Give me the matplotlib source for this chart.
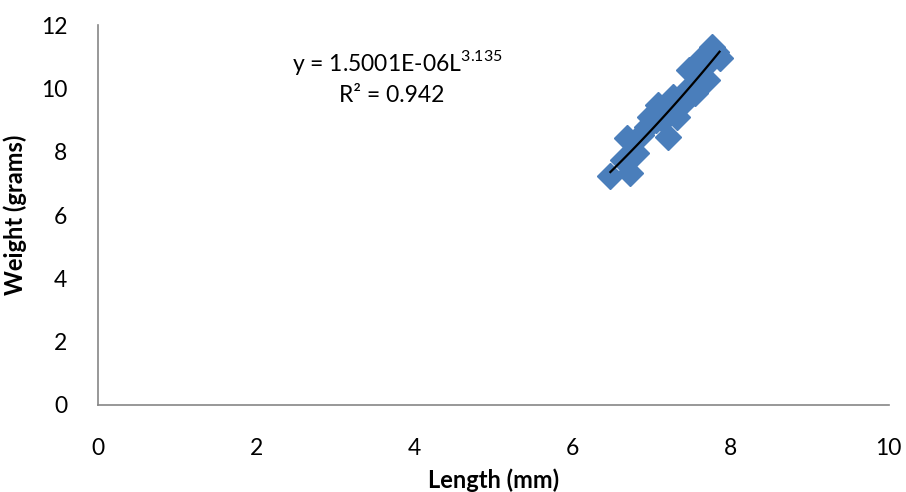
import numpy as np
import matplotlib
matplotlib.use('Agg')
import matplotlib.pyplot as plt

plt.rcParams['font.family'] = ['Lato', 'DejaVu Sans']
plt.rcParams['mathtext.fontset'] = 'custom'
plt.rcParams['mathtext.rm'] = 'Lato'

# Dati
length_mm = [6.48, 6.73, 6.64, 6.81, 6.69, 6.87, 6.94, 7.08, 7.21, 7.14, 7.32, 7.27,
             7.40, 7.45, 7.55, 7.48, 7.61, 7.70, 7.64, 7.76, 7.86, 7.82, 7.71, 7.58,
             6.98, 7.06, 7.19, 7.36]
weight_g = [7.22, 7.32, 7.73, 7.95, 8.43, 8.52, 8.78, 9.47, 8.46, 9.00, 9.09, 9.72,
            9.53, 9.95, 9.85, 10.58, 10.35, 10.26, 10.95, 11.30, 10.95, 11.14, 10.80, 10.16,
            9.10, 9.00, 9.30, 9.60]
equation = 'y = 1.5001E-06L$^{\\mathregular{3.135}}$'
r2_text = 'R² = 0.942'

fig = plt.figure(figsize=(9.06, 4.92), dpi=100)
ax = fig.add_axes([0.108, 0.177, 0.873, 0.772])

ax.plot(length_mm, weight_g, linestyle='none', marker='D', markersize=13,
        color='#4a7ebb', markeredgecolor='#4a7ebb', zorder=2)

# Linea di tendenza (potenza) calcolata dai dati
b, log_a = np.polyfit(np.log(length_mm), np.log(weight_g), 1)
xs = np.linspace(min(length_mm), max(length_mm), 100)
ax.plot(xs, np.exp(log_a) * xs ** b, color='black', linewidth=1.6, zorder=3)

ax.set_xlim(0, 10)
ax.set_ylim(0, 12)
ax.set_xticks(range(0, 11, 2))
ax.set_yticks(range(0, 13, 2))
ax.tick_params(length=0, labelsize=16.5, colors='black')
ax.tick_params(axis='x', pad=24)
ax.tick_params(axis='y', pad=22)
for s in ['top', 'right']:
    ax.spines[s].set_visible(False)
for s in ['left', 'bottom']:
    ax.spines[s].set_color('#868686')
    ax.spines[s].set_linewidth(1.2)

ax.set_xlabel('Length (mm)', fontsize=17, fontweight='bold')
ax.set_ylabel('Weight (grams)', fontsize=17, fontweight='bold')
ax.xaxis.set_label_coords(0.5, -0.168)
ax.yaxis.set_label_coords(-0.089, 0.5)

ax.text(3.78, 10.83, equation, fontsize=16.5, ha='center', va='center')
ax.text(3.71, 9.79, r2_text, fontsize=16.5, ha='center', va='center')

fig.savefig('out.png', dpi=100)
